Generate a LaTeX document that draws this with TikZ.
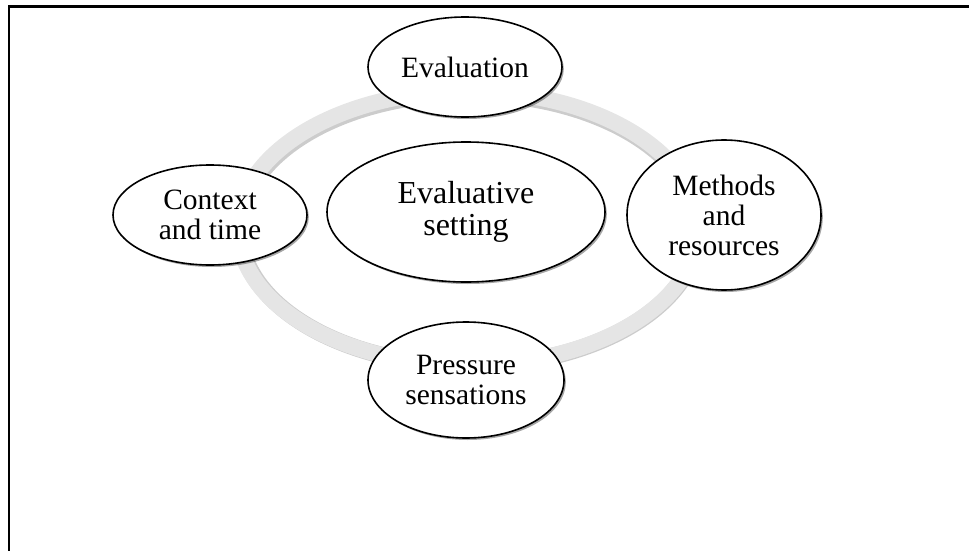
\documentclass[tikz,border=0pt]{standalone}
\usepackage{fontspec}
\setmainfont{Liberation Serif}
\usetikzlibrary{shapes.geometric,shadows}
\tikzset{
  bubble/.style={ellipse, draw=black, line width=1.6pt, fill=white, inner sep=0pt,
    align=center, font=\fontsize{29.5}{30}\selectfont,
    drop shadow={shadow xshift=1.8pt, shadow yshift=-2pt, opacity=0.35, fill=black}},
  hub/.style={bubble, font=\fontsize{32}{32}\selectfont},
  ringshade/.style={draw=black!20, line width=17pt},
  ringband/.style={draw=black!10, line width=16pt},
  frameline/.style={draw=black, line width=2.6pt}
}
\begin{document}
\begin{tikzpicture}[x=1pt,y=-1pt]
\useasboundingbox (0,0) rectangle (969,551);
\draw[frameline] (9,551) -- (9,6.5) -- (969,6.5);
\coordinate (ringc) at (468,228);
\coordinate (ringcs) at (469,229.5);
\draw[ringshade] (ringcs) ellipse [x radius=229, y radius=136];
\draw[ringband] (ringc) ellipse [x radius=230, y radius=137];
\node[bubble, minimum width=194pt, minimum height=100pt] (eval) at (465,67) {Evaluation};
\node[bubble, minimum width=194pt, minimum height=100pt] (ctx) at (210,215) {Context\\and time};
\node[bubble, minimum width=194pt, minimum height=150pt] (meth) at (724,215) {Methods\\and\\resources};
\node[bubble, minimum width=196pt, minimum height=116pt] (press) at (466,380) {Pressure\\sensations};
\node[hub, minimum width=278pt, minimum height=140pt] (hubnode) at (466,212) {Evaluative\\setting};
\end{tikzpicture}
\end{document}
